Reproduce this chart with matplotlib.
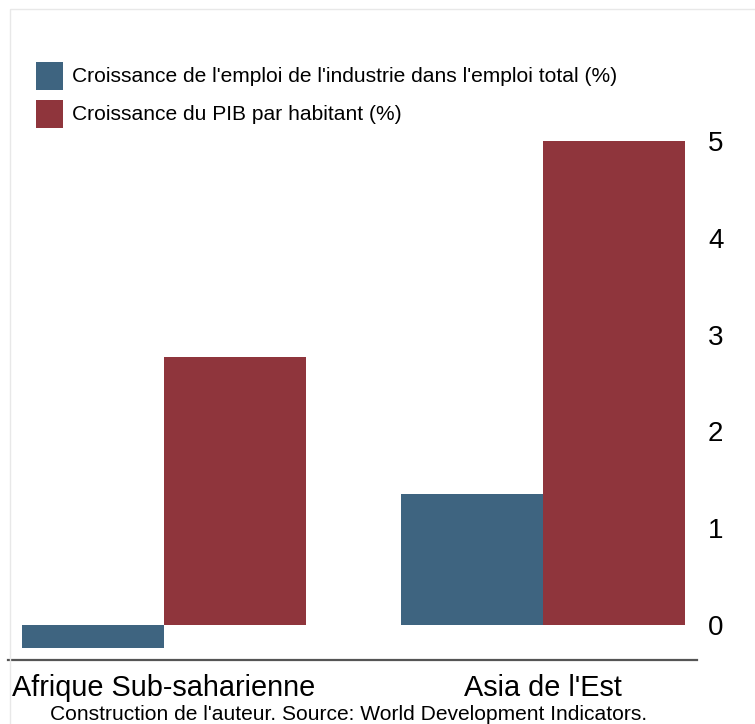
import matplotlib.pyplot as plt
import matplotlib.patches as mpatches
import numpy as np

plt.rcParams['font.family'] = ['Liberation Sans', 'DejaVu Sans']

regions = ["Afrique Sub-saharienne", "Asia de l'Est"]
emploi_industrie = [-0.24, 1.35]
pib_habitant = [2.77, 5.0]
series_labels = ["Croissance de l'emploi de l'industrie dans l'emploi total (%)",
                 "Croissance du PIB par habitant (%)"]
caption = "Construction de l'auteur. Source: World Development Indicators."

BLUE = '#3e6480'
RED = '#8f353c'
colors = [BLUE, RED]

W, H = 755, 724
fig = plt.figure(figsize=(W / 100, H / 100), dpi=100)

# faint frame at top-left as in the source export
fig.patches.append(mpatches.Rectangle((10 / W, -0.1), 2, 1 - 9 / H + 0.1,
                                      transform=fig.transFigure, fill=False,
                                      edgecolor='#e8e8e8', linewidth=1))

ax = fig.add_axes([8 / W, (H - 660) / H, (697 - 8) / W, (660 - 130) / H])

x = np.arange(len(regions))
w = 0.375
ax.bar(x - w / 2, emploi_industrie, w, color=BLUE)
ax.bar(x + w / 2, pib_habitant, w, color=RED)

px = 1 / 379
ax.set_xlim(-156 * px, 1 + 154 * px)
ax.set_ylim(-35 / 96.8, 5 + 11 / 96.8)

ax.yaxis.tick_right()
ax.set_yticks(range(6))
ax.tick_params(axis='y', length=0, pad=8, labelsize=20)
ax.set_xticks(x)
ax.set_xticklabels(regions)
ax.tick_params(axis='x', length=0, pad=10, labelsize=20.8)

for s in ['top', 'left', 'right']:
    ax.spines[s].set_visible(False)
ax.spines['bottom'].set_color('#555555')
ax.spines['bottom'].set_linewidth(1.6)

# legend drawn by hand in pixel positions
for i, (lab, c) in enumerate(zip(series_labels, colors)):
    top = 62 + i * 38
    fig.patches.append(mpatches.Rectangle((36 / W, 1 - (top + 28) / H), 27 / W, 28 / H,
                                          transform=fig.transFigure, facecolor=c,
                                          edgecolor='none'))
    fig.text(72 / W, 1 - (top + 14) / H, lab, ha='left', va='center', fontsize=15.1)

fig.text(349 / W, 1 - 714 / H, caption, ha='center', va='center', fontsize=15.1)

fig.savefig('out.png', dpi=100)
